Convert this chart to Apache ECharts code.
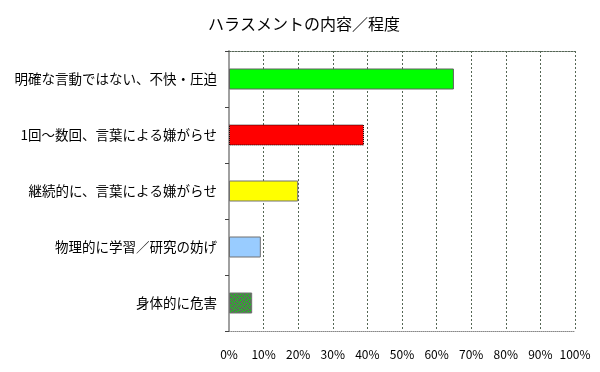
<!DOCTYPE html>
<html><head><meta charset="utf-8">
<script src="https://cdn.jsdelivr.net/npm/echarts@6/dist/echarts.min.js"></script>
<style>html,body{margin:0;padding:0;background:#fff}#c{width:600px;height:372px}</style>
</head><body><div id="c"></div>
<script>
const categories = ['明確な言動ではない、不快・圧迫','1回～数回、言葉による嫌がらせ','継続的に、言葉による嫌がらせ','物理的に学習／研究の妨げ','身体的に危害'];
const values = [65, 39, 20, 9.2, 6.7];
const barColors = ['#00ff00', '#ff0000', '#ffff00', '#99ccff', 'pattern'];
const borderColors = ['#606060', '#000000', '#707070', '#707070', '#707070'];
const borderTypes = ['solid', 'dotted', 'solid', 'solid', 'solid'];
const xTicks = [0,10,20,30,40,50,60,70,80,90,100];

function makePattern(){
  const cv = document.createElement('canvas'); cv.width = 6; cv.height = 6;
  const g = cv.getContext('2d');
  g.fillStyle = '#557755'; g.fillRect(0,0,6,6);
  g.fillStyle = '#00ee00';
  [[0,0],[3,1],[1,3],[4,4],[2,5],[5,2]].forEach(p=>g.fillRect(p[0],p[1],1,1));
  return {image: cv, repeat: 'repeat'};
}
const chart = echarts.init(document.getElementById('c'));
const font = '"Noto Sans CJK JP", "Noto Sans", sans-serif';
chart.setOption({
  animation: false,
  title: {text: 'ハラスメントの内容／程度', left: 299, textAlign: 'center', top: 11,
    textStyle: {fontFamily: font, fontSize: 16, fontWeight: 'normal', color: '#000'}},
  grid: {left: 229, right: 25, top: 51, bottom: 41},
  xAxis: [{
    type: 'value', min: 0, max: 100, interval: 10,
    axisLine: {show: true, lineStyle: {color: '#888', type: 'dotted', width: 1}},
    axisTick: {show: false},
    axisLabel: {formatter: '{value}%', color: '#000', fontFamily: font, fontSize: 12, margin: 17},
    splitLine: {show: true, lineStyle: {color: '#556655', type: [2,2], width: 1}}
  },{
    type: 'value', position: 'top', min: 0, max: 100, interval: 10,
    axisLine: {show: true, lineStyle: {color: '#556655', type: [2,1], width: 1}},
    axisTick: {show: false}, axisLabel: {show: false}, splitLine: {show: false}
  }],
  yAxis: {
    type: 'category', data: categories, inverse: true,
    axisLine: {show: true, lineStyle: {color: '#a0a0a0', width: 2}},
    axisTick: {show: true, length: 4, lineStyle: {color: '#444'}},
    axisLabel: {color: '#000', fontFamily: font, fontSize: 13.5, margin: 12}
  },
  series: [{
    type: 'bar', barWidth: 21,
    data: values.map((v,i)=>({value: v, itemStyle: {
      color: barColors[i] === 'pattern' ? makePattern() : barColors[i],
      borderColor: borderColors[i], borderWidth: 1, borderType: borderTypes[i]}}))
  }]
});
</script></body></html>
